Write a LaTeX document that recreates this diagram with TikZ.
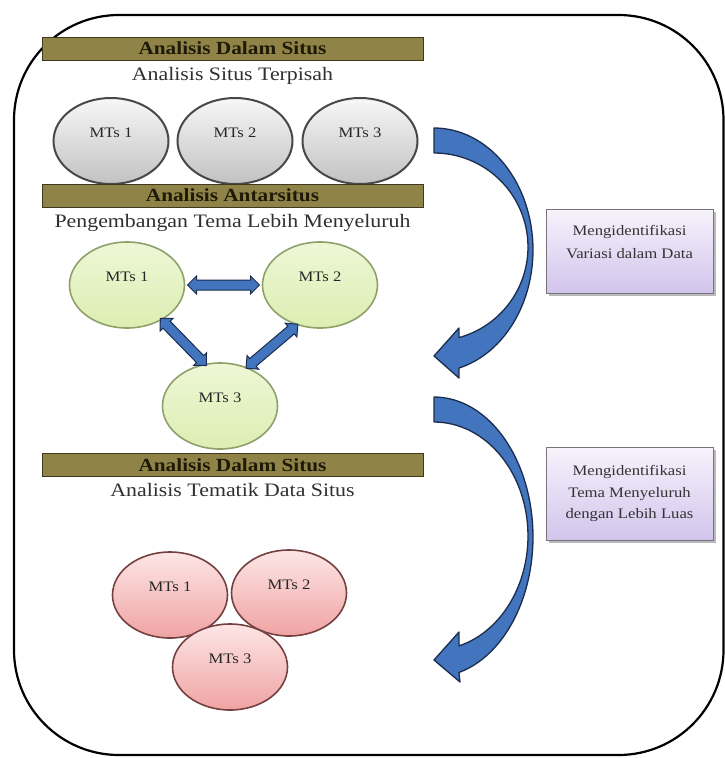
\documentclass[tikz,border=0pt]{standalone}
\usepackage{fontspec}
\setmainfont{Liberation Serif}[FakeStretch=1.15]
\usetikzlibrary{shapes.geometric,shapes.arrows,shadows}

\definecolor{barfill}{HTML}{8F8347}
\definecolor{barline}{HTML}{3F3A1E}
\definecolor{bartext}{HTML}{1F1A06}
\definecolor{subtext}{HTML}{303030}
\definecolor{graytop}{HTML}{F7F7F7}
\definecolor{graybot}{HTML}{C2C2C2}
\definecolor{grayline}{HTML}{484848}
\definecolor{greentop}{HTML}{EEF7D6}
\definecolor{greenbot}{HTML}{DCEEB2}
\definecolor{greenline}{HTML}{8FA06A}
\definecolor{redtop}{HTML}{FDE6E6}
\definecolor{redbot}{HTML}{F0A3A3}
\definecolor{redline}{HTML}{754040}
\definecolor{bluefill}{HTML}{4275BD}
\definecolor{blueline}{HTML}{1B2D4F}
\definecolor{purptop}{HTML}{F7F3FC}
\definecolor{purpbot}{HTML}{D2C4EC}
\definecolor{purpline}{HTML}{77737F}

\begin{document}
\begin{tikzpicture}[x=1pt,y=-1pt,
  bar/.style={draw=barline, line width=1pt, fill=barfill, minimum width=381pt,
    minimum height=23pt, inner sep=0pt, text=bartext,
    font=\fontsize{18.5}{20}\selectfont\bfseries},
  subtitle/.style={inner sep=0pt, text=subtext, font=\fontsize{19}{22}\selectfont},
  site/.style={ellipse, minimum width=115pt, minimum height=86pt, inner sep=0pt,
    text depth=16pt, line width=1.6pt, text=black!85,
    font=\fontsize{14.5}{16}\selectfont},
  graysite/.style={site, draw=grayline, line width=2pt, top color=graytop, bottom color=graybot},
  greensite/.style={site, draw=greenline, top color=greentop, bottom color=greenbot},
  redsite/.style={site, draw=redline, top color=redtop, bottom color=redbot},
  link/.style={double arrow, draw=blueline, fill=bluefill, line width=1pt,
    inner sep=0pt, inner ysep=4.5pt, double arrow head extend=4pt,
    double arrow tip angle=90, sloped, anchor=center},
  bigarrow/.style={draw=blueline, fill=bluefill, line width=1.3pt, line join=round},
  pbox/.style={draw=purpline, line width=1pt, top color=purptop, bottom color=purpbot,
    minimum width=167pt, inner sep=0pt,
    drop shadow={shadow xshift=2.5pt, shadow yshift=-2.5pt, fill=black!45, opacity=0.6}},
  ptext/.style={align=center, inner sep=0pt, text=black!80}
]
\useasboundingbox[fill=white] (0,0) rectangle (725,758);

% outer frame
\draw[line width=2.2pt, rounded corners=105pt] (14,15) rectangle (723.5,755);

% stage 1: separate sites
\node[bar] (t1) at (232.5,48.5) {Analisis Dalam Situs};
\node[subtitle] (s1) at (232.5,76) {Analisis Situs Terpisah};
\node[graysite] (a1) at (111,141) {MTs 1};
\node[graysite] (a2) at (235,141) {MTs 2};
\node[graysite] (a3) at (360,141) {MTs 3};

% stage 2: cross-site
\node[bar] (t2) at (232.5,195.5) {Analisis Antarsitus};
\node[subtitle] (s2) at (232.5,223) {Pengembangan Tema Lebih Menyeluruh};
\node[greensite] (g1) at (127,285) {MTs 1};
\node[greensite] (g2) at (320,285) {MTs 2};
\node[greensite] (g3) at (220,406) {MTs 3};
\path (g1.east) -- (g2.west) node[link, midway, minimum height=72pt] (l12) {};
\path (g1.-45) -- (g3.110) node[link, midway, minimum height=66pt] (l13) {};
\path (g2.-120) -- (g3.55) node[link, midway, minimum height=68pt] (l23) {};

% stage 3: thematic
\node[bar] (t3) at (232.5,465) {Analisis Dalam Situs};
\node[subtitle] (s3) at (232.5,490) {Analisis Tematik Data Situs};
\node[redsite] (r1) at (170,595) {MTs 1};
\node[redsite] (r2) at (289,593) {MTs 2};
\node[redsite] (r3) at (230,667) {MTs 3};

% curved arrows on the right: outer edge, head, inner edge
\draw[bigarrow]
  plot[domain=90:-75.4, samples=60] ({434+99*cos(\x)}, {250-122*sin(\x)})
  -- (459,378) -- (434,356) -- (459,328)
  -- plot[domain=-74.6:90, samples=60] ({434+94*cos(\x)}, {247-94*sin(\x)})
  -- cycle;
\draw[bigarrow]
  plot[domain=90:-75.4, samples=60] ({434+99*cos(\x)}, {537-140*sin(\x)})
  -- (460,682) -- (434,660) -- (459,632)
  -- plot[domain=-74.6:90, samples=60] ({434+94*cos(\x)}, {536-114*sin(\x)})
  -- cycle;

% side notes
\node[pbox, minimum height=84pt] (b1) at (629.5,251) {};
\node[ptext, font=\fontsize{14.5}{24}\selectfont] (b1t) at (629.5,242)
  {Mengidentifikasi\\Variasi dalam Data};
\node[pbox, minimum height=93pt] (b2) at (629.5,493.5) {};
\node[ptext, font=\fontsize{14.5}{21.5}\selectfont] (b2t) at (629.5,493.5)
  {Mengidentifikasi\\Tema Menyeluruh\\dengan Lebih Luas};
\end{tikzpicture}
\end{document}
